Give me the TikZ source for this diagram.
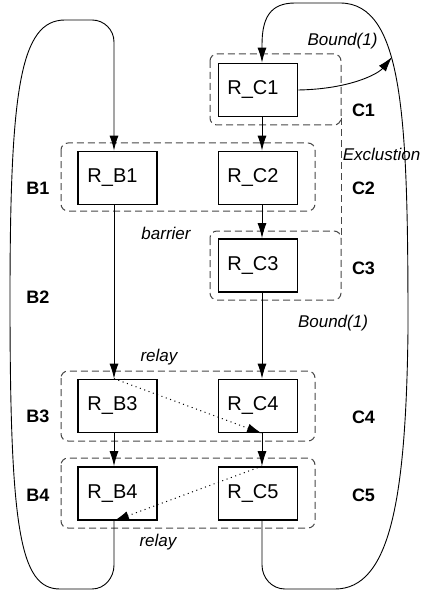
\documentclass[tikz,border=0pt]{standalone}
\usepackage{fontspec}
\setmainfont{Liberation Sans}
\usetikzlibrary{arrows.meta}
\tikzset{
  box/.style={draw, line width=1.8bp, minimum width=79bp, minimum height=53bp, inner sep=0pt,
    font=\fontsize{20bp}{24bp}\selectfont, execute at begin node={\hspace*{-10bp}}},
  grp/.style={draw=black!72, line width=1bp, dash pattern=on 7bp off 4bp, rounded corners=7bp},
  conn/.style={line width=0.9bp, -{Latex[length=15bp,width=9bp]}},
  rel/.style={line width=1bp, dash pattern=on 1bp off 3.6bp, -{Latex[length=15bp,width=9bp]}},
  loopline/.style={line width=0.9bp},
  lab/.style={font=\fontsize{18bp}{20bp}\selectfont\bfseries, anchor=base, inner sep=0pt},
  note/.style={font=\fontsize{17bp}{20bp}\selectfont\itshape, anchor=base, inner sep=0pt},
}
\begin{document}
\begin{tikzpicture}[x=1bp,y=-1bp]
\useasboundingbox (0,0) rectangle (421,596);
% groups
\draw[grp] (210,54) rectangle (341,125);
\draw[grp] (61,143) rectangle (315,211);
\draw[grp] (210,231) rectangle (341,300);
\draw[grp] (61,371) rectangle (315,441);
\draw[grp] (61,458) rectangle (315,528);
\draw[grp] (341,118) -- (341,238);
% boxes
\node[box] (c1) at (258,90) {R\_C1};
\node[box] (b1) at (117.5,178) {R\_B1};
\node[box] (c2) at (258,178) {R\_C2};
\node[box] (c3) at (258,265.5) {R\_C3};
\node[box] (b3) at (117.5,406) {R\_B3};
\node[box] (c4) at (258,406) {R\_C4};
\node[box] (b4) at (117.5,493.5) {R\_B4};
\node[box] (c5) at (258,493.5) {R\_C5};
% vertical connectors
\draw[conn] ([xshift=4bp]c1.south) -- ([xshift=4bp]c2.north);
\draw[conn] ([xshift=4bp]c2.south) -- ([xshift=4bp]c3.north);
\draw[conn] ([xshift=4bp]c3.south) -- ([xshift=4bp]c4.north);
\draw[conn] ([xshift=4bp]c4.south) -- ([xshift=4bp]c5.north);
\draw[conn] ([xshift=-3.5bp]b1.south) -- ([xshift=-3.5bp]b3.north);
\draw[conn] ([xshift=-3.5bp]b3.south) -- ([xshift=-3.5bp]b4.north);
% left loop
\draw[loopline, -{Latex[length=15bp,width=9bp]}] ([xshift=-3.5bp]b4.south) -- (114,565) to[out=-90,in=0] (92,589) -- (60,589)
  .. controls (20,589) and (10,530) .. (10,300)
  .. controls (10,90) and (20,20) .. (65,20) -- (92,20) to[out=0,in=90] (114,42) -- ([xshift=-3.5bp]b1.north);
% right loop
\draw[loopline, -{Latex[length=15bp,width=9bp]}] ([xshift=4bp]c5.south) -- (262,565) to[out=-90,in=180] (285,589) -- (335,589)
  .. controls (390,589) and (406,500) .. (408,330)
  .. controls (408,120) and (404,3) .. (340,3) -- (295,3)
  .. controls (270,3) and (262,18) .. (262,45) -- ([xshift=4bp]c1.north);
% bound arrow
\coordinate (bt) at (392,57);
\draw[conn] (c1.east) .. controls (350,89) and (378,74) .. (bt);
% relays
\draw[rel] ([xshift=-3.5bp]b3.north) -- ([xshift=4bp]c4.south);
\draw[rel] ([xshift=4bp]c5.north) -- ([xshift=-3.5bp]b4.south);
% labels
\node[lab] (lB1) at (38,194) {B1};
\node[lab] (lB2) at (38,303) {B2};
\node[lab] (lB3) at (38,422) {B3};
\node[lab] (lB4) at (38,501) {B4};
\node[lab] (lC1) at (363.5,116.5) {C1};
\node[lab] (lC2) at (363.5,194) {C2};
\node[lab] (lC3) at (363.5,274) {C3};
\node[lab] (lC4) at (363.5,423) {C4};
\node[lab] (lC5) at (363.5,501) {C5};
\node[note] (n1) at (342.5,46) {Bound(1)};
\node[note] (n2) at (381.5,161) {Exclustion};
\node[note] (n3) at (166,239) {barrier};
\node[note] (n4) at (333,327.5) {Bound(1)};
\node[note] (n5) at (159,361.5) {relay};
\node[note] (n6) at (158,546.5) {relay};
\end{tikzpicture}
\end{document}
